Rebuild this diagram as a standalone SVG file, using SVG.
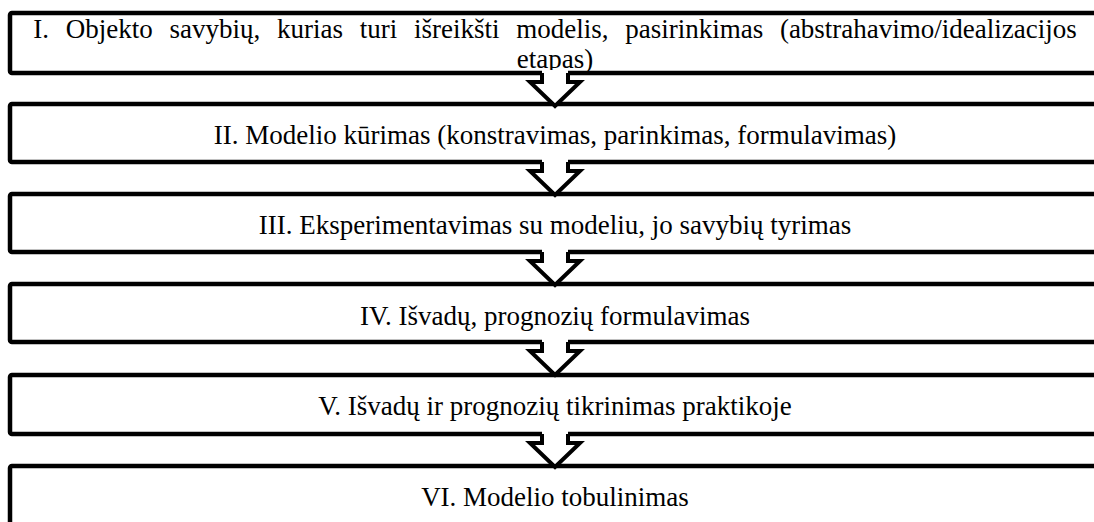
<svg xmlns="http://www.w3.org/2000/svg" width="1094" height="522" viewBox="0 0 1094 522">
<style>
.box{fill:none;stroke:#000;stroke-width:4.5;stroke-linejoin:round}
.t{font-family:"Liberation Serif","Times New Roman",serif;font-size:27px;fill:#000;text-anchor:middle}
.ar{fill:#fff;stroke:none}
.ao{fill:none;stroke:#000;stroke-width:4;stroke-linejoin:miter}
</style>
<defs>
<g id="arrow">
<polygon class="ar" points="-13,-3 13,-3 13,9 25,9 0,33 -25,9 -13,9"/>
<polyline class="ao" points="-13,0 -13,9 -25,9 0,33 25,9 13,9 13,0"/>
</g>
</defs>
<rect x="0" y="0" width="1094" height="522" fill="#fff"/>
<g id="n1">
<text class="t" x="555" y="38" word-spacing="10">I. Objekto savybių, kurias turi išreikšti modelis, pasirinkimas (abstrahavimo/idealizacijos</text>
<text class="t" x="555" y="68">etapas)</text>
<rect class="box" x="10" y="13" width="1090" height="60" rx="2"/>
</g>
<g id="n2">
<text class="t" x="555" y="144">II. Modelio kūrimas (konstravimas, parinkimas, formulavimas)</text>
<rect class="box" x="10" y="104" width="1090" height="58" rx="2"/>
</g>
<g id="n3">
<text class="t" x="555" y="234">III. Eksperimentavimas su modeliu, jo savybių tyrimas</text>
<rect class="box" x="10" y="194" width="1090" height="58" rx="2"/>
</g>
<g id="n4">
<text class="t" x="555" y="325">IV. Išvadų, prognozių formulavimas</text>
<rect class="box" x="10" y="284" width="1090" height="58" rx="2"/>
</g>
<g id="n5">
<text class="t" x="555" y="415">V. Išvadų ir prognozių tikrinimas praktikoje</text>
<rect class="box" x="10" y="375" width="1090" height="59" rx="2"/>
</g>
<g id="n6">
<text class="t" x="555" y="506">VI. Modelio tobulinimas</text>
<rect class="box" x="10" y="466" width="1090" height="70" rx="2"/>
</g>
<g id="connectors">
<use href="#arrow" x="555" y="73"/>
<use href="#arrow" x="555" y="162"/>
<use href="#arrow" x="555" y="252"/>
<use href="#arrow" x="555" y="342"/>
<use href="#arrow" x="555" y="434"/>
</g>
</svg>
